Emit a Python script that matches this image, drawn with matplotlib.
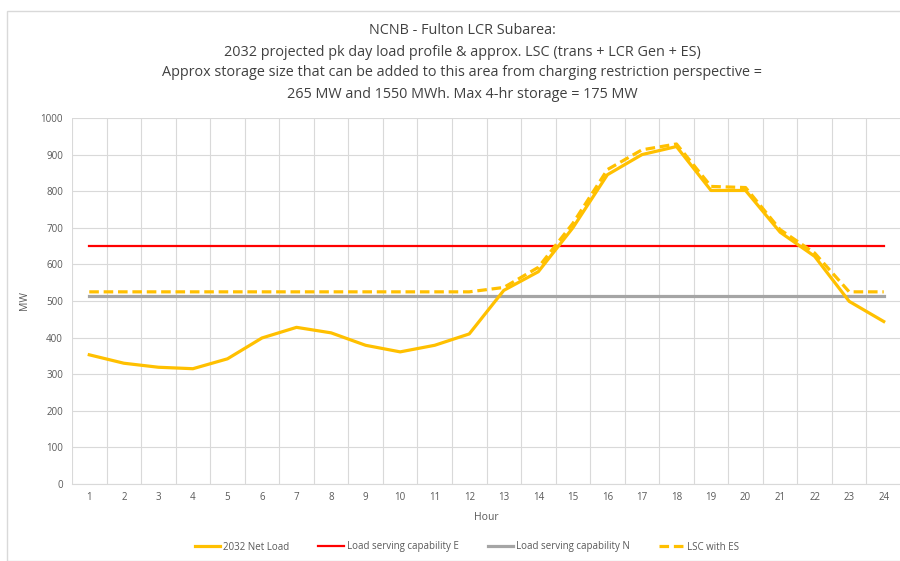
import matplotlib
matplotlib.use("Agg")
import matplotlib.pyplot as plt
from matplotlib.patches import Rectangle

hours = list(range(1, 25))
net_load = [353, 330, 319, 315, 342, 399, 428, 413, 379, 361, 379, 410,
            529, 580, 700, 845, 900, 922, 802, 802, 688, 622, 499, 444]
lsc_e = [650] * 24
lsc_n = [513] * 24
lsc_es = [525, 525, 525, 525, 525, 525, 525, 525, 525, 525, 525, 525,
          537, 592, 712, 859, 913, 929, 813, 810, 695, 631, 525, 525]
title_lines = ["NCNB - Fulton LCR Subarea:",
               "2032 projected pk day load profile & approx. LSC (trans + LCR Gen + ES)",
               "Approx storage size that can be added to this area from charging restriction perspective =",
               "265 MW and 1550 MWh. Max 4-hr storage = 175 MW"]

plt.rcParams['font.family'] = ['Open Sans', 'DejaVu Sans']

fig = plt.figure(figsize=(9, 5.61), dpi=100)
fig.patches.append(Rectangle((7/900, 0), 1.0, 1 - 11/561, transform=fig.transFigure,
                             fill=False, edgecolor='#d9d9d9', linewidth=1))
ax = fig.add_axes([72/900, 1 - 484/561, 829/900, 366/561])

ax.plot(hours, net_load, color='#FFC000', lw=2.3, label='2032 Net Load', zorder=5)
ax.plot(hours, lsc_e, color='#FF0000', lw=1.6, label='Load serving capability E', zorder=4)
ax.plot(hours, lsc_n, color='#A5A5A5', lw=2.3, label='Load serving capability N', zorder=3)
ax.plot(hours, lsc_es, color='#FFC000', lw=2.3, ls=(0, (3, 1.5)), label='LSC with ES', zorder=6)

ax.set_xlim(0.5, 24.5)
ax.set_ylim(0, 1000)
ax.set_yticks(range(0, 1001, 100))
ax.set_xticks(hours)
ax.set_xticks([h + 0.5 for h in range(0, 25)], minor=True)
ax.grid(False)
ax.grid(True, axis='y', which='major', color='#d9d9d9', lw=0.8)
ax.grid(True, axis='x', which='minor', color='#d9d9d9', lw=0.8)
ax.set_axisbelow(True)
for s in ['top', 'right', 'left']:
    ax.spines[s].set_visible(False)
ax.spines['bottom'].set_color('#d9d9d9')
ax.tick_params(axis='both', which='both', length=0, labelsize=7, colors='#595959')
ax.tick_params(axis='x', pad=6)
ax.tick_params(axis='y', pad=6.5)

ax.set_xlabel('Hour', fontsize=7.5, color='#595959', labelpad=6)
ax.set_ylabel('MW', fontsize=7.5, color='#595959')
ax.yaxis.set_label_coords((30 - 72) / 829, 0.5)

ys = [31, 52, 73, 95]
for t, y in zip(title_lines, ys):
    fig.text(462/900, 1 - y/561, t, ha='center', va='center', fontsize=10.4, color='#404040')

fig.legend(loc='center', bbox_to_anchor=(467/900, 1 - 547/561), ncol=4, frameon=False,
           fontsize=7, handlelength=2.6, columnspacing=3.0, handletextpad=0.3,
           labelcolor='#595959')

fig.savefig('out.png', dpi=100)
